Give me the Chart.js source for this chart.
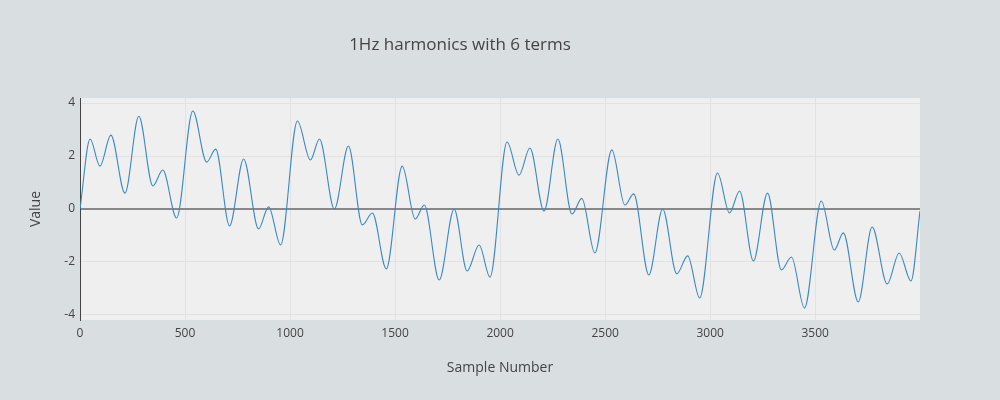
<!DOCTYPE html>
<html><head><meta charset="utf-8">
<script src="https://cdn.jsdelivr.net/npm/chart.js@4"></script>
<style>html,body{margin:0;padding:0;background:#d9dee1;}#c{display:block;}</style>
</head><body>
<canvas id="c" width="1000" height="400"></canvas>
<script>
// Extrema (sample number, value)
const sampleNumbers = [0,48,95,147,214,280,347,394,460,537,603,646,712,779,850,898,955,1035,1097,1140,1211,1278,1344,1392,1458,1534,1596,1639,1710,1781,1843,1900,1952,2033,2090,2142,2209,2275,2342,2389,2451,2532,2594,2636,2708,2774,2841,2893,2950,3035,3092,3140,3206,3273,3339,3387,3449,3529,3591,3634,3705,3771,3843,3900,3956,3999];
const values = [0,2.64,1.62,2.79,0.6,3.5,0.87,1.47,-0.34,3.7,1.77,2.26,-0.64,1.89,-0.75,0.08,-1.36,3.32,1.85,2.64,0,2.38,-0.6,-0.15,-2.26,1.62,-0.38,0.15,-2.68,0,-2.34,-1.36,-2.57,2.53,1.28,2.3,-0.08,2.64,-0.19,0.4,-1.66,2.23,0.15,0.57,-2.49,0,-2.45,-1.77,-3.36,1.36,-0.15,0.68,-1.96,0.6,-2.3,-1.81,-3.74,0.3,-1.55,-0.9,-3.51,-0.68,-2.83,-1.66,-2.72,-0.08];
const xTicks = [0,500,1000,1500,2000,2500,3000,3500];
const yTicks = [-4,-2,0,2,4];

const bgPlugin = {id:'bg', beforeDraw(ch){const a=ch.chartArea,c=ch.ctx;c.save();c.fillStyle='#efefef';c.fillRect(a.left,a.top,a.right-a.left,a.bottom-a.top);c.restore();}};
new Chart(document.getElementById('c'),{
 type:'scatter',
 data:{datasets:[{data:sampleNumbers.map((x,i)=>({x,y:values[i]})),showLine:true,pointRadius:0,borderColor:'#3a87c8',borderWidth:1.1,cubicInterpolationMode:'monotone'}]},
 plugins:[bgPlugin],
 options:{responsive:false,animation:false,devicePixelRatio:1,
  layout:{padding:{left:0,right:80,top:0,bottom:0}},
  plugins:{legend:{display:false},tooltip:{enabled:false},
   title:{display:true,text:'1Hz harmonics with 6 terms',color:'#444',font:{family:'Open Sans',size:17,weight:'normal'},padding:{top:35,bottom:42.6}}},
  scales:{
   x:{type:'linear',min:0,max:3999,afterFit(s){s.height=80;},
      afterBuildTicks(s){s.ticks=xTicks.map(v=>({value:v}));},
      grid:{color:'#e2e2e2',drawTicks:false},border:{display:false},
      ticks:{color:'#444',font:{family:'Open Sans',size:12},padding:6,maxRotation:0,callback:v=>String(v)},
      title:{display:true,text:'Sample Number',color:'#444',font:{family:'Open Sans',size:14},padding:{top:24,bottom:24}}},
   y:{min:-4.19,max:4.19,afterFit(s){s.width=80;},
      afterBuildTicks(s){s.ticks=yTicks.map(v=>({value:v}));},
      grid:{color:c=>c.tick&&c.tick.value===0?'#888':'#e2e2e2',lineWidth:c=>c.tick&&c.tick.value===0?2:1,drawTicks:false},
      border:{display:true,color:'#444',width:1},
      ticks:{color:'#444',font:{family:'Open Sans',size:12},padding:5,callback:v=>String(v)},
      title:{display:true,text:'Value',color:'#444',font:{family:'Open Sans',size:14},padding:{top:28,bottom:0}}}
  }}
});
</script></body></html>
